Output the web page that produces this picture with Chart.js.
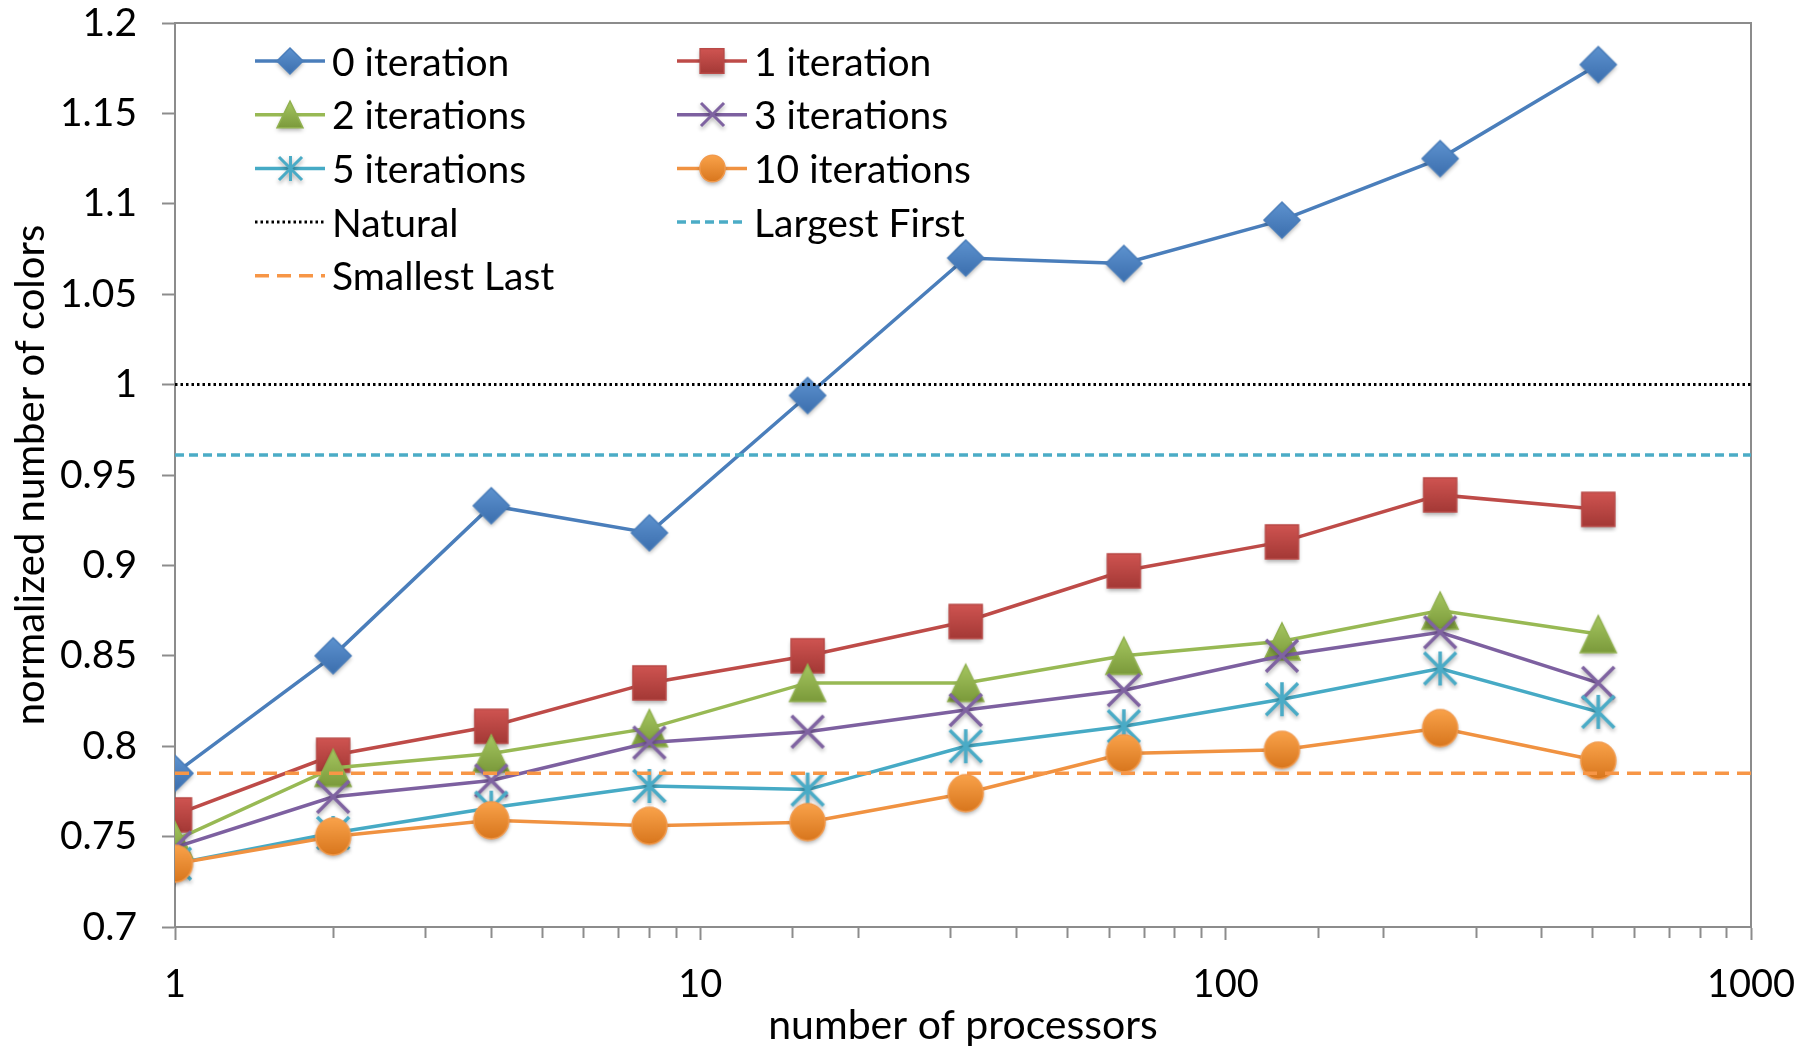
<!DOCTYPE html>
<html>
<head>
<meta charset="utf-8">
<script src="https://cdn.jsdelivr.net/npm/chart.js@4.4.0/dist/chart.umd.min.js"></script>
<style>
  html, body { margin: 0; padding: 0; background: #ffffff; }
  #wrap { width: 1798px; height: 1050px; position: relative; }
  canvas { display: block; }
</style>
</head>
<body>
<div id="wrap"><canvas id="chart" width="1798" height="1050"></canvas></div>
<script>
// Number of processors (log-scaled x axis)
const processors = [1, 2, 4, 8, 16, 32, 64, 128, 256, 512];

// Normalized number of colors per number of recoloring iterations
const iter0  = [0.785, 0.850, 0.933, 0.918, 0.994, 1.070, 1.067, 1.091, 1.125, 1.177];
const iter1  = [0.762, 0.795, 0.811, 0.835, 0.850, 0.869, 0.897, 0.913, 0.939, 0.931];
const iter2  = [0.748, 0.788, 0.796, 0.810, 0.835, 0.835, 0.850, 0.858, 0.875, 0.862];
const iter3  = [0.744, 0.772, 0.781, 0.802, 0.808, 0.820, 0.831, 0.850, 0.863, 0.835];
const iter5  = [0.735, 0.752, 0.766, 0.778, 0.776, 0.800, 0.811, 0.826, 0.843, 0.819];
const iter10 = [0.735, 0.750, 0.759, 0.756, 0.758, 0.774, 0.796, 0.798, 0.810, 0.792];

// Sequential ordering baselines (constant across processor counts)
const baselineSpan = [1, 1000];
const naturalLevel = 1.0;
const largestFirstLevel = 0.961;
const smallestLastLevel = 0.785;

const seriesLabels = ['0 iteration', '1 iteration', '2 iterations', '3 iterations',
  '5 iterations', '10 iterations', 'Natural', 'Largest First', 'Smallest Last'];
const xTickLabels = [1, 10, 100, 1000];
const yRange = [0.7, 1.2];
const yStep = 0.05;

const FONT = 'Lato, "Open Sans", "DejaVu Sans", sans-serif';
const AXIS_GRAY = '#8c8c8c';

// ---- marker images -------------------------------------------------------
function makeMarker(kind, w, h, c) {
  const pad = 7;
  const cv = document.createElement('canvas');
  cv.width = Math.round(w + pad * 2);
  cv.height = Math.round(h + pad * 2);
  const g = cv.getContext('2d');
  const cx = cv.width / 2, cy = cv.height / 2;
  g.shadowColor = 'rgba(0,0,0,0.32)';
  g.shadowBlur = 4;
  g.shadowOffsetY = 2.5;
  const grad = g.createLinearGradient(0, cy - h / 2, 0, cy + h / 2);
  grad.addColorStop(0, c.top);
  grad.addColorStop(1, c.bottom);
  g.fillStyle = grad;
  g.strokeStyle = c.stroke;
  g.lineWidth = c.lw || 1.5;
  g.lineJoin = 'miter';
  g.beginPath();
  if (kind === 'diamond') {
    g.moveTo(cx, cy - h / 2); g.lineTo(cx + w / 2, cy); g.lineTo(cx, cy + h / 2); g.lineTo(cx - w / 2, cy); g.closePath();
    g.fill(); g.shadowColor = 'transparent'; g.stroke();
  } else if (kind === 'square') {
    g.rect(cx - w / 2, cy - h / 2, w, h);
    g.fill(); g.shadowColor = 'transparent'; g.stroke();
  } else if (kind === 'triangle') {
    g.moveTo(cx, cy - h / 2); g.lineTo(cx + w / 2, cy + h / 2); g.lineTo(cx - w / 2, cy + h / 2); g.closePath();
    g.fill(); g.shadowColor = 'transparent'; g.stroke();
  } else if (kind === 'circle') {
    g.ellipse(cx, cy, w / 2, h / 2, 0, 0, Math.PI * 2);
    g.fill(); g.shadowColor = 'transparent'; g.stroke();
  } else if (kind === 'cross') {
    g.lineCap = 'butt';
    g.moveTo(cx - w / 2, cy - h / 2); g.lineTo(cx + w / 2, cy + h / 2);
    g.moveTo(cx + w / 2, cy - h / 2); g.lineTo(cx - w / 2, cy + h / 2);
    g.stroke();
  } else if (kind === 'asterisk') {
    g.lineCap = 'butt';
    g.moveTo(cx - w / 2, cy - h / 2); g.lineTo(cx + w / 2, cy + h / 2);
    g.moveTo(cx + w / 2, cy - h / 2); g.lineTo(cx - w / 2, cy + h / 2);
    g.moveTo(cx, cy - h / 2 - 1); g.lineTo(cx, cy + h / 2 + 1);
    g.stroke();
  }
  return cv;
}

const palette = {
  diamond:  { top: '#5d92cf', bottom: '#3c6fae', stroke: '#4a7ebb' },
  square:   { top: '#cf5451', bottom: '#a43936', stroke: '#b94a47' },
  triangle: { top: '#a5c660', bottom: '#7b9a3b', stroke: '#91b14f' },
  cross:    { top: '#7f63a1', bottom: '#7f63a1', stroke: '#7f63a1', lw: 3.5 },
  asterisk: { top: '#4aabc6', bottom: '#4aabc6', stroke: '#4aabc6', lw: 3.5 },
  circle:   { top: '#f9a24a', bottom: '#d8761d', stroke: '#f29a4c' }
};
const markerSize = {
  diamond: [36, 36], square: [33, 34], triangle: [36, 37],
  cross: [32, 32], asterisk: [32, 32], circle: [35, 37]
};
function marker(kind, scale) {
  const [w, h] = markerSize[kind];
  const c = Object.assign({}, palette[kind]);
  if (scale < 1 && c.lw) c.lw = 3;
  return makeMarker(kind, w * scale, h * scale, c);
}

// ---- datasets ------------------------------------------------------------
function seriesPoints(values) { return processors.map((p, i) => ({ x: p, y: values[i] })); }
function levelPoints(v) { return baselineSpan.map(x => ({ x: x, y: v })); }

const seriesDefs = [
  { values: iter0,  color: '#4a7ebb', kind: 'diamond' },
  { values: iter1,  color: '#be4b48', kind: 'square' },
  { values: iter2,  color: '#98b954', kind: 'triangle' },
  { values: iter3,  color: '#7d60a0', kind: 'cross' },
  { values: iter5,  color: '#46aac5', kind: 'asterisk' },
  { values: iter10, color: '#f09241', kind: 'circle' }
];
const levelDefs = [
  { value: naturalLevel,      color: '#000000', dash: [2.5, 3],  width: 3 },
  { value: largestFirstLevel, color: '#4bacc6', dash: [9, 5],    width: 3.5 },
  { value: smallestLastLevel, color: '#f79646', dash: [14, 8],   width: 3.5 }
];

const datasets = [];
seriesDefs.forEach((s, i) => {
  datasets.push({
    label: seriesLabels[i],
    data: seriesPoints(s.values),
    borderColor: s.color,
    borderWidth: 3.5,
    tension: 0,
    pointStyle: marker(s.kind, 1),
    pointRadius: 16,
    legendMarker: marker(s.kind, 0.72)
  });
});
levelDefs.forEach((l, j) => {
  datasets.push({
    label: seriesLabels[6 + j],
    data: levelPoints(l.value),
    borderColor: l.color,
    borderWidth: l.width,
    borderDash: l.dash,
    pointRadius: 0,
    tension: 0
  });
});
// later series are painted over earlier ones
datasets.forEach((d, i) => { d.order = datasets.length - i; });

// ---- plugins -------------------------------------------------------------
const plotFrame = {
  id: 'plotFrame',
  beforeDatasetsDraw(chart) {
    const a = chart.chartArea, ctx = chart.ctx;
    ctx.save();
    ctx.strokeStyle = AXIS_GRAY;
    ctx.lineWidth = 2;
    ctx.beginPath();
    ctx.moveTo(a.left, a.top); ctx.lineTo(a.right, a.top); ctx.lineTo(a.right, a.bottom);
    ctx.stroke();
    ctx.restore();
  }
};

const gridLegend = {
  id: 'gridLegend',
  afterDatasetsDraw(chart, args, opts) {
    const ctx = chart.ctx, a = chart.chartArea;
    chart.data.datasets.forEach((ds, i) => {
      const col = i % 2, row = Math.floor(i / 2);
      const x0 = a.left + opts.columns[col];
      const y = a.top + opts.firstRow + row * opts.rowStep;
      ctx.save();
      ctx.strokeStyle = ds.borderColor;
      ctx.lineWidth = ds.borderWidth;
      ctx.setLineDash(ds.borderDash || []);
      ctx.beginPath();
      ctx.moveTo(x0, y); ctx.lineTo(x0 + opts.sample, y);
      ctx.stroke();
      ctx.setLineDash([]);
      if (ds.legendMarker) {
        const m = ds.legendMarker;
        ctx.drawImage(m, Math.round(x0 + opts.sample / 2 - m.width / 2), Math.round(y - m.height / 2));
      }
      ctx.fillStyle = '#000';
      ctx.font = opts.fontSize + 'px ' + FONT;
      ctx.textBaseline = 'middle';
      ctx.textAlign = 'left';
      ctx.fillText(ds.label, x0 + opts.sample + opts.gap, y + 2);
      ctx.restore();
    });
  }
};

// ---- chart ---------------------------------------------------------------
function isDecade(v) {
  return xTickLabels.some(t => Math.abs(t - v) < 1e-6 * t);
}

new Chart(document.getElementById('chart'), {
  type: 'line',
  data: { datasets: datasets },
  plugins: [plotFrame, gridLegend],
  options: {
    responsive: false,
    animation: false,
    devicePixelRatio: 1,
    layout: { padding: { top: 23, right: 47, left: 0, bottom: 0 } },
    plugins: {
      legend: { display: false },
      tooltip: { enabled: false },
      gridLegend: { columns: [80, 502], firstRow: 38, rowStep: 53.7, sample: 70, gap: 7, fontSize: 39 }
    },
    scales: {
      x: {
        type: 'logarithmic',
        position: 'bottom',
        min: baselineSpan[0],
        max: baselineSpan[1],
        border: { display: true, color: AXIS_GRAY, width: 2 },
        grid: {
          display: true, drawOnChartArea: false, drawTicks: true, tickLength: 13,
          color: AXIS_GRAY, tickColor: AXIS_GRAY, tickWidth: 2,
          // decade ticks run full length, intermediate ones are shorter
          tickBorderDash: (ctx) => (ctx.tick && isDecade(ctx.tick.value)) ? [] : [10, 40]
        },
        ticks: {
          autoSkip: false, maxRotation: 0, padding: 22, color: '#000',
          font: { family: FONT, size: 38 },
          callback: (v) => isDecade(v) ? String(Math.round(v)) : ''
        },
        title: { display: true, text: 'number of processors', color: '#000',
                 font: { family: FONT, size: 41 }, padding: { top: 0, bottom: 0 } },
        afterFit(scale) {
          scale.height = 123;
          scale.paddingLeft = 0;
          scale.paddingRight = 0;
        }
      },
      y: {
        type: 'linear',
        min: yRange[0],
        max: yRange[1],
        border: { display: true, color: AXIS_GRAY, width: 2 },
        grid: { display: true, drawOnChartArea: false, drawTicks: true, tickLength: 13,
                color: AXIS_GRAY, tickColor: AXIS_GRAY, tickWidth: 2 },
        ticks: {
          stepSize: yStep, padding: 25, color: '#000',
          font: { family: FONT, size: 39 },
          callback: (v) => String(parseFloat(Number(v).toFixed(2)))
        },
        title: { display: true, text: 'normalized number of colors', color: '#000',
                 font: { family: FONT, size: 40 }, padding: { top: 7, bottom: 0 } },
        afterFit(scale) {
          scale.width = 175;
          scale.paddingTop = 0;
          scale.paddingBottom = 0;
        }
      }
    }
  }
});
</script>
</body>
</html>
